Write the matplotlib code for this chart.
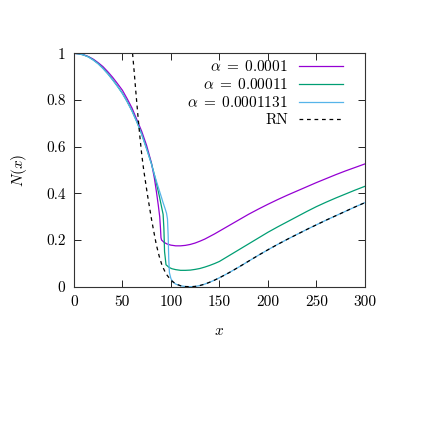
import matplotlib
matplotlib.use("Agg")
from matplotlib import pyplot as plt
import numpy as np

plt.rcParams['font.family'] = 'cmr10'
plt.rcParams['mathtext.fontset'] = 'cm'
plt.rcParams['axes.formatter.use_mathtext'] = True
plt.rcParams['font.size'] = 11

# alpha = 0.0001
x_a1 = [0, 5, 10, 15, 20, 25, 30, 35, 40, 45, 50, 55, 60, 65, 70, 75, 80, 83, 85,
        87, 88.5, 89.3, 89.8, 90.4, 93, 96, 100, 105, 110, 115, 120, 125, 130,
        135, 140, 145, 150, 160, 170, 180, 190, 200, 210, 220, 230, 240, 250,
        260, 270, 280, 290, 300]
n_a1 = [1.0, 0.998, 0.994, 0.986, 0.975, 0.96, 0.943, 0.921, 0.897, 0.87, 0.842,
        0.805, 0.765, 0.715, 0.665, 0.605, 0.53, 0.465, 0.41, 0.35, 0.30, 0.25,
        0.21, 0.20, 0.19, 0.183, 0.178, 0.175, 0.175, 0.177, 0.181, 0.187, 0.195,
        0.204, 0.215, 0.226, 0.238, 0.262, 0.286, 0.31, 0.332, 0.353, 0.373,
        0.392, 0.41, 0.428, 0.446, 0.463, 0.48, 0.496, 0.511, 0.526]

# alpha = 0.00011
x_a2 = [0, 5, 10, 15, 20, 25, 30, 35, 40, 45, 50, 55, 60, 65, 70, 75, 80, 83, 85,
        88, 90, 92, 92.8, 93.5, 95, 98, 101, 105, 110, 115, 120, 125, 130, 135,
        140, 145, 150, 160, 170, 180, 190, 200, 210, 220, 230, 240, 250, 260,
        270, 280, 290, 300]
n_a2 = [1.0, 0.998, 0.993, 0.985, 0.972, 0.956, 0.936, 0.913, 0.887, 0.859, 0.829,
        0.793, 0.753, 0.706, 0.653, 0.592, 0.527, 0.48, 0.445, 0.39, 0.35, 0.31,
        0.25, 0.15, 0.094, 0.083, 0.077, 0.073, 0.07, 0.07, 0.071, 0.074, 0.078,
        0.084, 0.091, 0.099, 0.108, 0.133, 0.158, 0.183, 0.208, 0.233, 0.256,
        0.278, 0.30, 0.322, 0.343, 0.362, 0.38, 0.397, 0.414, 0.43]

# alpha = 0.0001131
x_a3 = [0, 5, 10, 15, 20, 25, 30, 35, 40, 45, 50, 55, 60, 65, 70, 75, 80, 83, 86,
        89, 92, 94, 95.5, 96.5, 97.2, 97.8, 98.5, 100, 102, 105, 110, 115, 121,
        125, 130, 135, 140, 145, 150, 160, 170, 180, 190, 200, 210, 220, 230,
        240, 250, 260, 270, 280, 290, 300]
n_a3 = [1.0, 0.998, 0.993, 0.984, 0.971, 0.955, 0.935, 0.912, 0.886, 0.858, 0.828,
        0.792, 0.752, 0.705, 0.652, 0.59, 0.525, 0.48, 0.44, 0.40, 0.36, 0.335,
        0.315, 0.29, 0.22, 0.12, 0.06, 0.035, 0.02, 0.011, 0.004, 0.0005, 0.0,
        0.001, 0.005, 0.011, 0.019, 0.028, 0.038, 0.06, 0.084, 0.109, 0.134,
        0.158, 0.181, 0.203, 0.224, 0.245, 0.265, 0.285, 0.304, 0.323, 0.342,
        0.36]

# RN
x_rn = [60.5, 62, 64, 66, 68, 70, 72, 74, 76, 78, 80, 82, 85, 88, 91, 95, 100,
        105, 110, 115, 121, 125, 130, 135, 140, 145, 150, 160, 170, 180, 190,
        200, 210, 220, 230, 240, 250, 260, 270, 280, 290, 300]
n_rn = [1.0, 0.93, 0.83, 0.735, 0.645, 0.565, 0.50, 0.445, 0.39, 0.34, 0.29,
        0.245, 0.18, 0.13, 0.09, 0.055, 0.028, 0.012, 0.004, 0.0005, 0.0, 0.001,
        0.005, 0.011, 0.019, 0.028, 0.038, 0.06, 0.084, 0.109, 0.134, 0.158,
        0.181, 0.203, 0.224, 0.245, 0.265, 0.285, 0.304, 0.323, 0.342, 0.36]

x_ticks = [0, 50, 100, 150, 200, 250, 300]
y_ticks = [0, 0.2, 0.4, 0.6, 0.8, 1]
y_tick_labels = ["0", "0.2", "0.4", "0.6", "0.8", "1"]

fig = plt.figure(figsize=(4.37, 4.37), dpi=100)
ax = fig.add_axes([0.169, 0.344, 0.666, 0.534])

ax.plot(x_a1, n_a1, color="#9400d3", linewidth=0.9, label=r"$\alpha \;=\; 0.0001$")
ax.plot(x_a2, n_a2, color="#009e73", linewidth=0.9, label=r"$\alpha \;=\; 0.00011$")
ax.plot(x_a3, n_a3, color="#56b4e9", linewidth=0.9, label=r"$\alpha \;=\; 0.0001131$")
ax.plot(x_rn, n_rn, color="black", linewidth=0.9, linestyle=(0, (3, 3)), label="RN")

ax.set_xlim(0, 300)
ax.set_ylim(0, 1)
ax.set_xticks(x_ticks)
ax.set_xticklabels([str(t) for t in x_ticks])
ax.set_yticks(y_ticks)
ax.set_yticklabels(y_tick_labels)
ax.tick_params(direction="in", top=True, right=True, length=5, width=0.6, pad=6)
for s in ax.spines.values():
    s.set_linewidth(0.8)
    s.set_color("#333333")

ax.set_xlabel(r"$x$", labelpad=11)
ax.set_ylabel(r"$N(x)$", labelpad=12)

ax.legend(loc="upper right", bbox_to_anchor=(0.925, 0.975), frameon=False,
          markerfirst=False, handlelength=2.9, handletextpad=0.7,
          labelspacing=0.2, borderpad=0, borderaxespad=0)

plt.savefig("out.png", dpi=100)
